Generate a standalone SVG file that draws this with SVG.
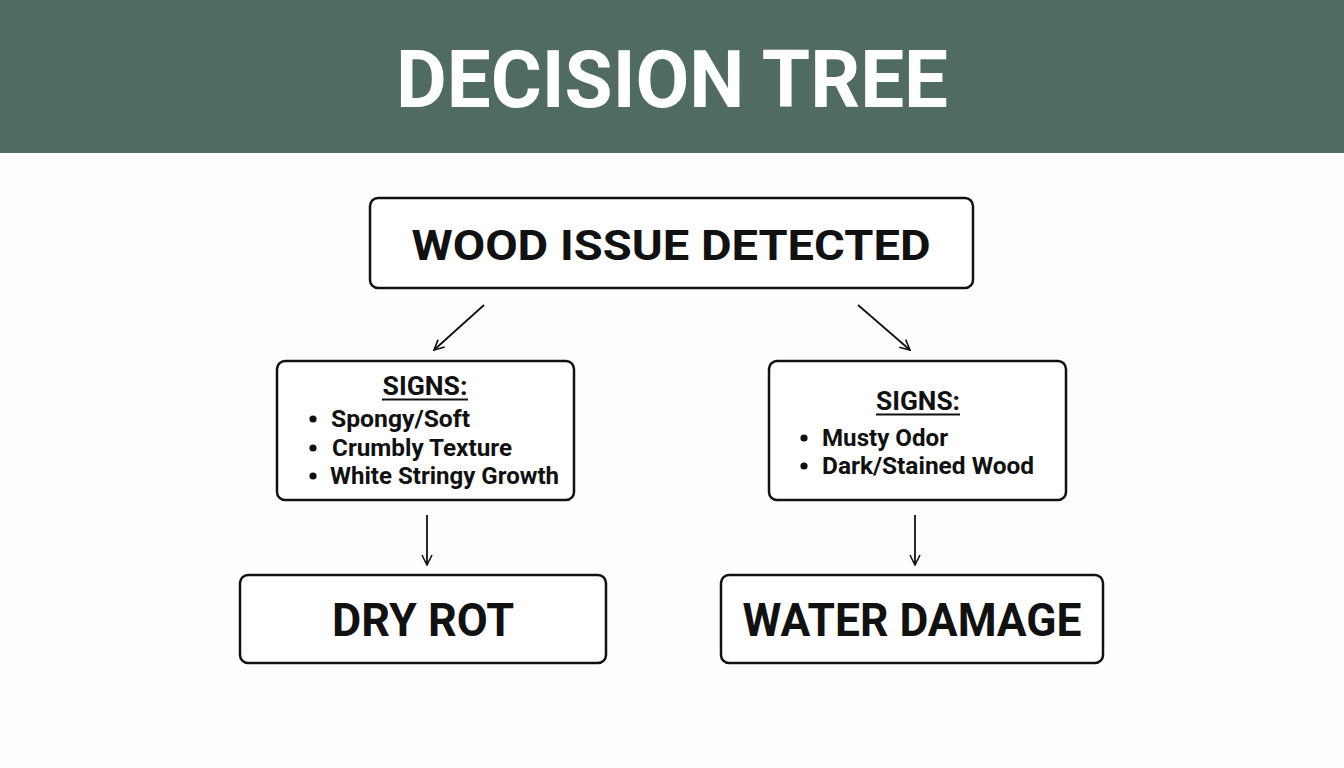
<svg xmlns="http://www.w3.org/2000/svg" width="1344" height="768" viewBox="0 0 1344 768">
<defs>
<marker id="ah" viewBox="0 0 12 12" refX="11" refY="6" markerWidth="12" markerHeight="12" markerUnits="userSpaceOnUse" orient="auto">
<path d="M1,1 L11,6 L1,11" fill="none" stroke="#111" stroke-width="1.6"/>
</marker>
<style>
.box{fill:#fff;stroke:#111;stroke-width:2.5}
.t{font-family:Roboto,"Liberation Sans",sans-serif;font-weight:bold;fill:#111}
.c{text-anchor:middle}
.dot{fill:#111}
.conn line{stroke:#111;stroke-width:1.8;marker-end:url(#ah)}
</style>
</defs>
<rect width="1344" height="768" fill="#fefefe"/>
<g id="header">
<rect x="0" y="0" width="1344" height="153" fill="#506b62"/>
<text x="672" y="107" class="t c" font-size="79" style="fill:#fff" textLength="552" lengthAdjust="spacingAndGlyphs">DECISION TREE</text>
</g>
<g id="root">
<rect class="box" x="370" y="198" width="603" height="90" rx="8"/>
<text x="671" y="260" class="t c" font-size="43" textLength="519" lengthAdjust="spacingAndGlyphs">WOOD ISSUE DETECTED</text>
</g>
<g id="signs-left">
<rect class="box" x="277" y="361" width="297" height="139" rx="8"/>
<text x="425" y="395" class="t c" font-size="25" textLength="85" lengthAdjust="spacingAndGlyphs">SIGNS:</text>
<line x1="382" y1="399.5" x2="468" y2="399.5" stroke="#111" stroke-width="2"/>
<circle class="dot" cx="313" cy="419" r="3.6"/>
<text x="331" y="427" class="t" font-size="24" textLength="139" lengthAdjust="spacingAndGlyphs">Spongy/Soft</text>
<circle class="dot" cx="313" cy="448" r="3.6"/>
<text x="332" y="456" class="t" font-size="24" textLength="180" lengthAdjust="spacingAndGlyphs">Crumbly Texture</text>
<circle class="dot" cx="313" cy="476" r="3.6"/>
<text x="330" y="484" class="t" font-size="24" textLength="229" lengthAdjust="spacingAndGlyphs">White Stringy Growth</text>
</g>
<g id="signs-right">
<rect class="box" x="769" y="361" width="297" height="139" rx="8"/>
<text x="918" y="410" class="t c" font-size="25" textLength="84" lengthAdjust="spacingAndGlyphs">SIGNS:</text>
<line x1="876" y1="414.5" x2="960" y2="414.5" stroke="#111" stroke-width="2"/>
<circle class="dot" cx="804" cy="438" r="3.6"/>
<text x="822" y="446" class="t" font-size="24" textLength="126" lengthAdjust="spacingAndGlyphs">Musty Odor</text>
<circle class="dot" cx="804" cy="466" r="3.6"/>
<text x="822" y="474" class="t" font-size="24" textLength="212" lengthAdjust="spacingAndGlyphs">Dark/Stained Wood</text>
</g>
<g id="dry-rot">
<rect class="box" x="240" y="575" width="366" height="88" rx="8"/>
<text x="423" y="636" class="t c" font-size="46" textLength="182" lengthAdjust="spacingAndGlyphs">DRY ROT</text>
</g>
<g id="water-damage">
<rect class="box" x="721" y="575" width="382" height="88" rx="8"/>
<text x="912" y="636" class="t c" font-size="46" textLength="339" lengthAdjust="spacingAndGlyphs">WATER DAMAGE</text>
</g>
<g id="connectors" class="conn">
<line x1="484" y1="305" x2="434" y2="350"/>
<line x1="858" y1="305" x2="910" y2="350"/>
<line x1="427" y1="515" x2="427" y2="565"/>
<line x1="915" y1="515" x2="915" y2="565"/>
</g>
</svg>
